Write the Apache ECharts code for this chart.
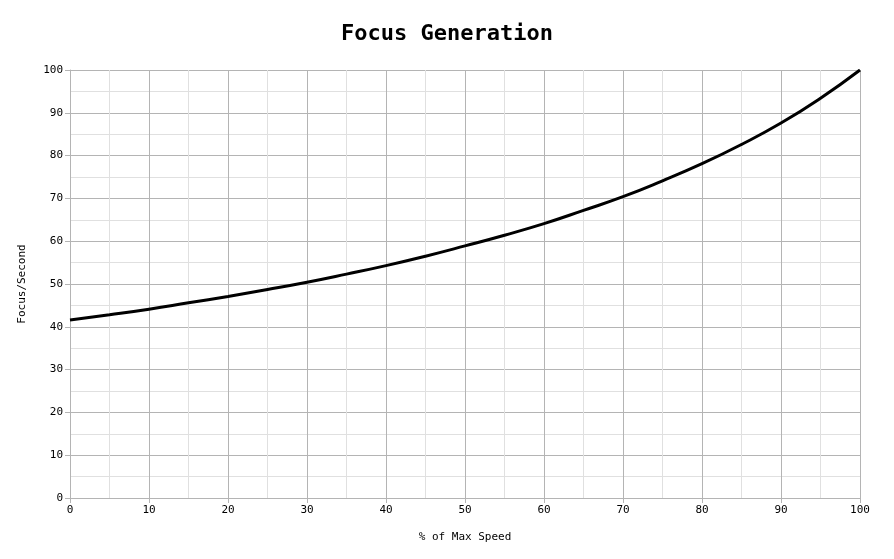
<!DOCTYPE html>
<html>
<head>
<meta charset="utf-8">
<script src="https://cdn.jsdelivr.net/npm/echarts@6/dist/echarts.min.js"></script>
<style>html,body{margin:0;padding:0;background:#fff}#c{width:894px;height:559px}</style>
</head>
<body>
<div id="c"></div>
<script>
var xValues = [0, 5, 10, 15, 20, 25, 30, 35, 40, 45, 50, 55, 60, 65, 70, 75, 80, 85, 90, 95, 100];
var focusValues = [41.6, 42.8, 44.1, 45.6, 47.1, 48.7, 50.4, 52.3, 54.3, 56.5, 58.9, 61.4, 64.1, 67.2, 70.4, 74.1, 78.1, 82.6, 87.6, 93.4, 100];
var titleText = 'Focus Generation';
var xName = '% of Max Speed';
var yName = 'Focus/Second';

var font = 'DejaVu Sans Mono';
var chart = echarts.init(document.getElementById('c'), null, {renderer: 'canvas'});
var major = '#b4b4b4', minor = '#e0e0e0';
function axisCommon(name, gap) {
  return {
    type: 'value', min: 0, max: 100, interval: 10,
    name: name, nameLocation: 'middle', nameGap: gap,
    nameTextStyle: {fontFamily: font, fontSize: 11, color: '#000'},
    axisLine: {show: true, lineStyle: {color: major, width: 1}},
    axisTick: {show: true, length: 5, lineStyle: {color: major}},
    axisLabel: {fontFamily: font, fontSize: 11, color: '#000', margin: 7},
    splitLine: {show: true, lineStyle: {color: major, width: 1}},
    minorTick: {show: false, splitNumber: 2},
    minorSplitLine: {show: true, lineStyle: {color: minor, width: 1}}
  };
}
var xa = axisCommon(xName, 34);
var ya = axisCommon(yName, 42);
chart.setOption({
  animation: false,
  title: {
    text: titleText, left: 'center', top: 18,
    textStyle: {fontFamily: font, fontSize: 22, fontWeight: 'bold', color: '#000'}
  },
  grid: {left: 70, right: 34, top: 70, bottom: 61},
  xAxis: xa,
  yAxis: ya,
  series: [{
    type: 'line',
    data: xValues.map(function (x, i) { return [x, focusValues[i]]; }),
    smooth: true,
    showSymbol: false,
    lineStyle: {color: '#000', width: 3}
  }]
});
</script>
</body>
</html>
